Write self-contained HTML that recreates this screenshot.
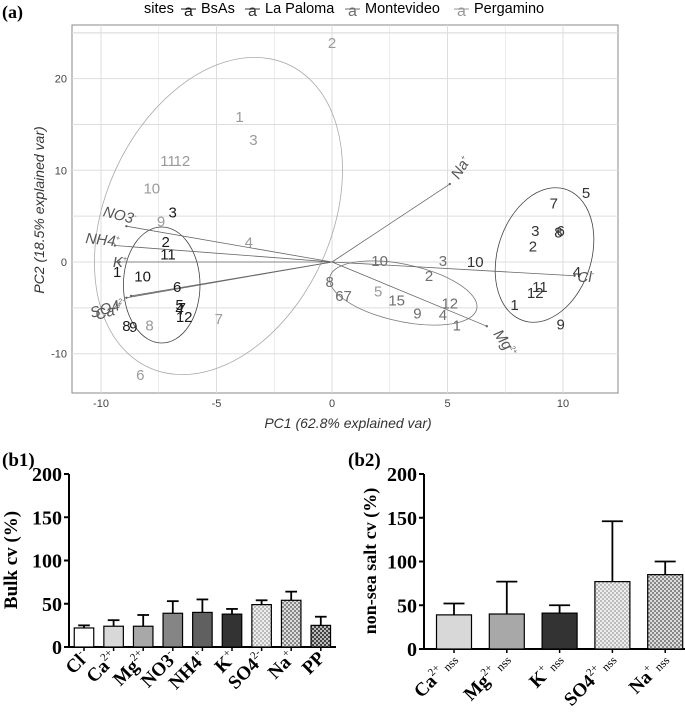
<!DOCTYPE html>
<html><head><meta charset="utf-8">
<style>
body{margin:0;background:#fff;width:685px;height:715px;overflow:hidden;font-family:"Liberation Sans",sans-serif}
svg{display:block}
.s{font-family:"Liberation Serif",serif;font-weight:bold}
</style></head><body>
<svg id="svg" width="685" height="715" viewBox="0 0 685 715" xmlns="http://www.w3.org/2000/svg">
<defs>
<pattern id="chk1" width="4" height="4" patternUnits="userSpaceOnUse"><rect width="4" height="4" fill="#eee"/><rect width="2" height="2" fill="#bbb"/><rect x="2" y="2" width="2" height="2" fill="#bbb"/></pattern>
<pattern id="chk2" width="4" height="4" patternUnits="userSpaceOnUse"><rect width="4" height="4" fill="#ddd"/><rect width="2" height="2" fill="#888"/><rect x="2" y="2" width="2" height="2" fill="#888"/></pattern>
<pattern id="chk3" width="4" height="4" patternUnits="userSpaceOnUse"><rect width="4" height="4" fill="#bbb"/><rect width="2" height="2" fill="#444"/><rect x="2" y="2" width="2" height="2" fill="#444"/></pattern>
</defs>
<text x="2" y="18" class="s" font-size="18">(a)</text>
<g id="legend" font-size="14.5">
<text x="144" y="13">sites</text>
</g>
<rect x="72" y="25" width="546" height="368" fill="#fff" stroke="#888"/>
<g id="grid"></g>
<g id="pca"></g>
<text x="348" y="428" font-size="14" font-style="italic" fill="#333" text-anchor="middle">PC1 (62.8% explained var)</text>
<text transform="translate(44,210) rotate(-90)" font-size="14" font-style="italic" fill="#333" text-anchor="middle">PC2 (18.5% explained var)</text>
<text x="2" y="466" class="s" font-size="19">(b1)</text>
<text x="348" y="466" class="s" font-size="19">(b2)</text>
<text transform="translate(17,560) rotate(-90)" class="s" font-size="19" text-anchor="middle">Bulk cv (%)</text>
<text transform="translate(376,561) rotate(-90)" class="s" font-size="18" text-anchor="middle">non-sea salt cv (%)</text>
<g id="b1"></g><g id="b2"></g>
</svg>
<script>
const NS="http://www.w3.org/2000/svg";
function mk(tag,attrs,parent,txt){const e=document.createElementNS(NS,tag);for(const k in attrs)e.setAttribute(k,attrs[k]);if(txt!==undefined)e.textContent=txt;parent.appendChild(e);return e;}
// ---- PCA data
const siteNames=["BsAs","La Paloma","Montevideo","Pergamino"];
const siteColors=["#1a1a1a","#333","#6e6e6e","#9a9a9a"];
const xTicks=[-10,-5,0,5,10];
const yTicks=[-10,0,10,20];
const ptLabels0=["3","2","11","1","10","6","5","7","4","12","8","9"];
const ptX0=[-6.9,-7.2,-7.1,-9.3,-8.2,-6.7,-6.6,-6.5,-6.6,-6.4,-8.9,-8.6];
const ptY0=[5.4,2.2,0.8,-1.1,-1.6,-2.7,-4.7,-5.0,-5.2,-6.0,-7.0,-7.1];
const ptLabels1=["5","7","3","6","8","2","10","4","11","12","1","9"];
const ptX1=[11.0,9.6,8.8,9.9,9.8,8.7,6.2,10.6,9.0,8.8,7.9,9.9];
const ptY1=[7.5,6.4,3.4,3.4,3.2,1.7,0,-1.1,-2.7,-3.4,-4.7,-6.8];
const ptLabels2=["10","3","2","8","67","15","12","9","4","1"];
const ptX2=[2.06,4.8,4.2,-0.1,0.5,2.8,5.1,3.7,4.8,5.4];
const ptY2=[0.1,0.1,-1.5,-2.2,-3.7,-4.2,-4.5,-5.6,-5.8,-6.9];
const ptLabels3=["2","1","3","11","12","10","9","4","8","7","6","5"];
const ptX3=[0,-4.0,-3.4,-7.1,-6.5,-7.8,-7.4,-3.6,-7.9,-4.9,-8.3,2.0];
const ptY3=[23.9,15.8,13.3,11,11,8,4.4,2.1,-6.9,-6.2,-12.3,-3.2];
const loadNames=["Na+","NO3-","NH4+","K+","SO42-","Ca2+","Mg2+","Cl-"];
const loadX=[5.1,-8.9,-9.4,-9.2,-8.7,-8.9,6.7,10.5];
const loadY=[8.5,3.9,1.8,0,-3.7,-3.9,-7.0,-1.5];
const sx=v=>332+v*23.1, sy=v=>262-v*9.17;
const fx=o=>332+(o-254)*1.32;
const grid=document.getElementById('grid'), pca=document.getElementById('pca');
for(let v=-12.5;v<=12.5;v+=2.5){const x=sx(v);if(x>72&&x<618){const g=mk('line',{x1:x,x2:x,y1:25,y2:393,stroke:'#ddd','stroke-width':xTicks.includes(v)?1:0.6},grid);}}
for(let v=-15;v<=25;v+=5){const y=sy(v);if(y>25&&y<393){const g=mk('line',{x1:72,x2:618,y1:y,y2:y,stroke:'#ddd'},grid);}}
mk('line',{x1:72,x2:618,y1:33,y2:33,stroke:'#ddd'},grid);
xTicks.forEach(v=>{const t=mk('text',{x:sx(v),y:407,'font-size':11,fill:'#444','text-anchor':'middle'},grid,String(v));});
yTicks.forEach(v=>{const t=mk('text',{x:67,y:sy(v)+4,'font-size':11,fill:'#444','text-anchor':'end'},grid,String(v));});
// ellipses (drawn in compressed frame, stretched horizontally)
const eg=mk('g',{transform:'translate(332,0) scale(1.32,1) translate(-254,0)'},pca);
[[168,216,88,162,14,'#aaa'],[125,285,29,58,0,'#444'],[308,293,58,28,18,'#777'],[415,255,36,68,10,'#444']].forEach((e,i)=>{const el=mk('ellipse',{cx:e[0],cy:e[1],rx:e[2],ry:e[3],transform:`rotate(${e[4]} ${e[0]} ${e[1]})`,fill:'none',stroke:e[5],'stroke-width':0.8,'vector-effect':'non-scaling-stroke'},eg);});
// arrows
const lblPos=[[350,180,-58],[80,216,14],[67,243,6],[88,267,0],[72,318,-16],[76,320,-16],[376,334,55],[440,282,0]];
const lblTxt=["Na+","NO3-","NH4+","K+","SO4 2-","Ca2+","Mg2+","Cl-"];
loadNames.forEach((n,i)=>{const x2=sx(loadX[i]),y2=sy(loadY[i]);
const l=mk('line',{x1:332,y1:262,x2:x2,y2:y2,stroke:'#666','stroke-width':0.8},pca);
mk('circle',{cx:x2,cy:y2,r:1.2,fill:'#666'},pca);
const p=lblPos[i];const px=fx(p[0]);const t=mk('text',{x:px,y:p[1],'font-size':15,'font-style':'italic',fill:'#555',transform:`rotate(${p[2]} ${px} ${p[1]})`},pca,lblTxt[i].replace(/[+-]$| 2-$|2\+$/,''));
const sup=lblTxt[i].match(/(2[+-]|[+-])$/);if(sup)mk('tspan',{'font-size':7,dy:-6},t,sup[0]);
});
// points
[[ptLabels0,ptX0,ptY0],[ptLabels1,ptX1,ptY1],[ptLabels2,ptX2,ptY2],[ptLabels3,ptX3,ptY3]].forEach((g,gi)=>{g[0].forEach((lb,i)=>{const t=mk('text',{x:sx(g[1][i]),y:sy(g[2][i])+5,'font-size':15,fill:siteColors[gi],'text-anchor':'middle'},pca,lb);});});
// legend
const leg=document.getElementById('legend');const legX=[184,248,348,457];
siteNames.forEach((n,i)=>{const lx=legX[i];const a=mk('text',{x:lx,y:16,'font-size':16,fill:siteColors[i]},leg,'a');
mk('line',{x1:lx-3,x2:lx+12,y1:9,y2:9,stroke:siteColors[i]},leg);
const t=mk('text',{x:lx+17,y:13},leg,n);});
// ---- Bar charts
const b1Cats=["Cl-","Ca2+","Mg2+","NO3-","NH4+","K+","SO42-","Na+","PP"];
const b1Vals=[22,24,24,39,40,38,49,54,25];
const b1Err=[25,31,37,53,55,44,54,64,35];
const b1Fill=["#fff","#d8d8d8","#a8a8a8","#858585","#606060","#333","url(#chk1)","url(#chk2)","url(#chk3)"];
const b1Lab=[["Cl","-"],["Ca","2+"],["Mg","2+"],["NO3","-"],["NH4","+"],["K","+"],["SO4","2-"],["Na","+"],["PP",""]];
const b2Cats=["Ca2+nss","Mg2+nss","K+nss","SO42-nss","Na+nss"];
const b2Vals=[39,40,41,77,85];
const b2Err=[52,77,50,146,100];
const b2Fill=["#d8d8d8","#a8a8a8","#333","url(#chk1)","url(#chk2)"];
const b2Lab=[["Ca","2+"],["Mg","2+"],["K","+"],["SO4","2+"],["Na","+"]];
const yTickB=[0,50,100,150,200];
function bars(gid,cats,vals,err,fill,lab,x0,first,step,xend,y0,y200,bw,nss){
 const g=document.getElementById(gid);const ys=v=>y0-(v/200)*(y0-y200);
 const ax=mk('line',{x1:x0,x2:x0,y1:y200,y2:y0,stroke:'#000','stroke-width':2},g);
 const bx=mk('line',{x1:x0,x2:xend,y1:y0,y2:y0,stroke:'#000','stroke-width':2},g);
 yTickB.forEach(v=>{mk('line',{x1:x0-5,x2:x0,y1:ys(v),y2:ys(v),stroke:'#000','stroke-width':2},g);const t=mk('text',{x:x0-7,y:ys(v)+7,'text-anchor':'end','font-size':20,class:'s'},g,String(v));});
 cats.forEach((c,i)=>{const cx=first+step*i;
  const e=mk('line',{x1:cx,x2:cx,y1:ys(vals[i]),y2:ys(err[i]),stroke:'#000','stroke-width':1.8},g);
  mk('line',{x1:cx-bw*0.3,x2:cx+bw*0.3,y1:ys(err[i]),y2:ys(err[i]),stroke:'#000','stroke-width':1.8},g);
  const r=mk('rect',{x:cx-bw/2,y:ys(vals[i]),width:bw,height:y0-ys(vals[i]),fill:fill[i],stroke:'#000','stroke-width':1.2},g);
  mk('line',{x1:cx,x2:cx,y1:y0,y2:y0+4,stroke:'#000','stroke-width':1.5},g);
  const tx=cx+5,ty=y0+12;const t=mk('text',{x:tx,y:ty,'text-anchor':'end','font-size':19,class:'s',transform:`rotate(-45 ${tx} ${ty})`},g,lab[i][0]);
  if(lab[i][1])mk('tspan',{'font-size':11,dy:-8,'font-weight':'normal'},t,lab[i][1]);
  if(nss)mk('tspan',{'font-size':12,dy:8,'font-weight':'normal'},t,' nss');
  });
}
bars('b1',b1Cats,b1Vals,b1Err,b1Fill,b1Lab,69,84,29.6,336,647,474,19.5,false);
bars('b2',b2Cats,b2Vals,b2Err,b2Fill,b2Lab,424,454,52.8,685,649,474,35,true);
</script>
</body></html>
